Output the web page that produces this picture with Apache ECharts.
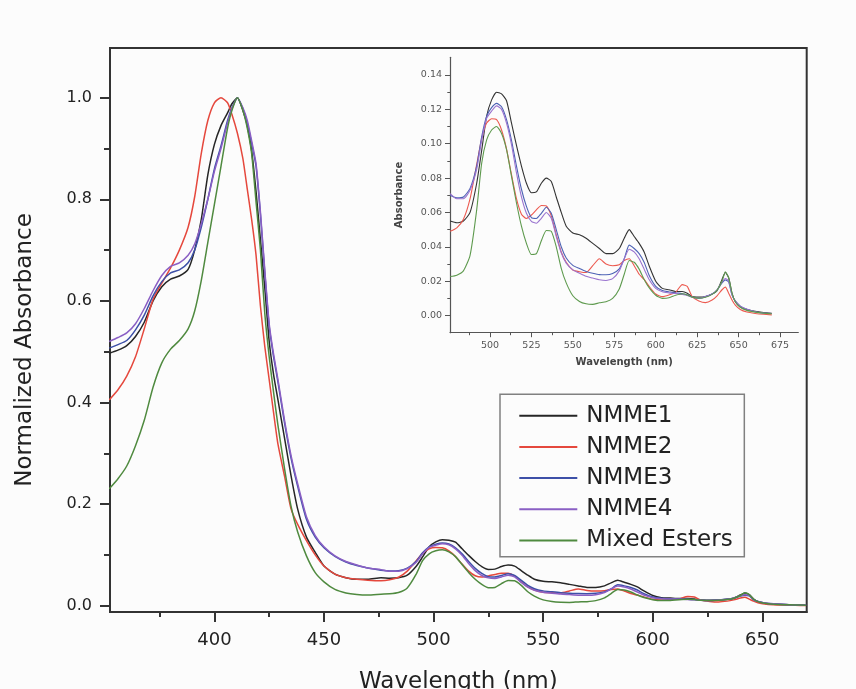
<!DOCTYPE html>
<html><head><meta charset="utf-8">
<script src="https://cdn.jsdelivr.net/npm/echarts@6/dist/echarts.min.js"></script>
<style>html,body{margin:0;padding:0;background:#fcfcfc}#c{width:856px;height:689px}</style>
</head><body><div id="c"></div>
<script>
// ---- data ----
const seriesNames = ['NMME1', 'NMME2', 'NMME3', 'NMME4', 'Mixed Esters'];
// Soret region (main chart only), nm
const waveSoret = [352, 356, 360, 364, 368, 372, 376, 380, 384, 388, 391, 394, 397, 400, 403, 406, 408, 410.5, 413, 415, 417, 419, 421, 423, 425, 427, 429, 432, 435, 438, 442, 446, 450, 455, 460, 465, 470];
const nmme1Soret = [0.497, 0.503, 0.512, 0.530, 0.558, 0.600, 0.628, 0.643, 0.649, 0.662, 0.700, 0.760, 0.848, 0.908, 0.945, 0.970, 0.988, 1.0, 0.975, 0.945, 0.895, 0.815, 0.72, 0.625, 0.52, 0.455, 0.405, 0.33, 0.255, 0.19, 0.135, 0.105, 0.078, 0.062, 0.055, 0.052, 0.052];
const nmme2Soret = [0.405, 0.425, 0.452, 0.49, 0.545, 0.603, 0.635, 0.665, 0.70, 0.745, 0.805, 0.89, 0.955, 0.99, 1.0, 0.99, 0.967, 0.93, 0.88, 0.82, 0.76, 0.69, 0.59, 0.51, 0.445, 0.38, 0.318, 0.255, 0.19, 0.16, 0.128, 0.10, 0.078, 0.062, 0.055, 0.052, 0.050];
const nmme3Soret = [0.507, 0.514, 0.522, 0.543, 0.572, 0.610, 0.638, 0.655, 0.661, 0.675, 0.70, 0.745, 0.80, 0.86, 0.905, 0.955, 0.98, 1.0, 0.978, 0.95, 0.91, 0.865, 0.77, 0.655, 0.55, 0.49, 0.44, 0.36, 0.29, 0.235, 0.17, 0.135, 0.114, 0.097, 0.086, 0.079, 0.074];
const nmme4Soret = [0.520, 0.528, 0.537, 0.555, 0.585, 0.620, 0.650, 0.668, 0.675, 0.690, 0.712, 0.752, 0.80, 0.855, 0.90, 0.95, 0.978, 1.0, 0.98, 0.955, 0.915, 0.87, 0.775, 0.66, 0.555, 0.495, 0.445, 0.365, 0.295, 0.24, 0.175, 0.138, 0.116, 0.098, 0.087, 0.080, 0.074];
const mixedSoret = [0.23, 0.25, 0.275, 0.315, 0.365, 0.43, 0.478, 0.505, 0.522, 0.545, 0.58, 0.64, 0.715, 0.79, 0.865, 0.94, 0.975, 1.0, 0.975, 0.94, 0.89, 0.795, 0.70, 0.575, 0.49, 0.42, 0.355, 0.27, 0.195, 0.145, 0.098, 0.065, 0.047, 0.032, 0.025, 0.022, 0.021];
// Q-band region (inset, and right part of main chart), nm
const waveQ = [476, 480, 484, 488, 492, 495, 498, 501, 504, 507, 510, 513, 516, 519, 522, 525, 528, 531, 534, 537, 540, 543, 546, 550, 554, 558, 562, 566, 570, 574, 578, 581, 584, 587, 590, 593, 596, 600, 604, 608, 612, 616, 619, 622, 626, 630, 634, 637, 640, 642, 644, 646, 648, 651, 655, 660, 665, 670];
const nmme1Q = [0.055, 0.054, 0.055, 0.060, 0.077, 0.096, 0.116, 0.1255, 0.130, 0.129, 0.125, 0.112, 0.099, 0.087, 0.077, 0.0715, 0.072, 0.077, 0.080, 0.078, 0.069, 0.060, 0.052, 0.048, 0.047, 0.045, 0.042, 0.039, 0.036, 0.036, 0.039, 0.045, 0.050, 0.046, 0.042, 0.037, 0.029, 0.020, 0.0158, 0.015, 0.014, 0.014, 0.013, 0.011, 0.0107, 0.011, 0.0125, 0.0145, 0.021, 0.025, 0.022, 0.013, 0.008, 0.005, 0.0035, 0.0025, 0.0017, 0.0013];
const nmme2Q = [0.049, 0.051, 0.056, 0.068, 0.088, 0.103, 0.112, 0.1145, 0.114, 0.108, 0.097, 0.082, 0.068, 0.059, 0.0565, 0.0585, 0.0615, 0.064, 0.0638, 0.058, 0.047, 0.037, 0.031, 0.0265, 0.0255, 0.025, 0.029, 0.033, 0.030, 0.029, 0.0295, 0.032, 0.033, 0.029, 0.024, 0.021, 0.017, 0.0125, 0.011, 0.012, 0.0135, 0.018, 0.017, 0.011, 0.0085, 0.0075, 0.009, 0.0115, 0.015, 0.0165, 0.013, 0.009, 0.006, 0.0035, 0.002, 0.0012, 0.0007, 0.0004];
const nmme3Q = [0.070, 0.0685, 0.069, 0.074, 0.087, 0.104, 0.116, 0.121, 0.1235, 0.1215, 0.114, 0.102, 0.087, 0.0735, 0.0635, 0.057, 0.0565, 0.0595, 0.063, 0.0595, 0.050, 0.040, 0.0335, 0.0292, 0.0273, 0.0256, 0.0246, 0.0238, 0.0237, 0.0245, 0.0272, 0.033, 0.041, 0.039, 0.036, 0.031, 0.0235, 0.017, 0.0145, 0.0138, 0.0132, 0.0127, 0.012, 0.0108, 0.0101, 0.011, 0.0125, 0.0148, 0.019, 0.0207, 0.0195, 0.012, 0.0085, 0.0055, 0.0036, 0.0022, 0.0015, 0.0012];
const nmme4Q = [0.071, 0.068, 0.068, 0.073, 0.085, 0.102, 0.1148, 0.119, 0.122, 0.120, 0.112, 0.0995, 0.083, 0.069, 0.0595, 0.0548, 0.0537, 0.0566, 0.060, 0.0566, 0.046, 0.0365, 0.0305, 0.0266, 0.0246, 0.0228, 0.0218, 0.0208, 0.0204, 0.0215, 0.026, 0.033, 0.0386, 0.037, 0.033, 0.027, 0.021, 0.0158, 0.0138, 0.0132, 0.0128, 0.0122, 0.0116, 0.0106, 0.0101, 0.011, 0.0125, 0.015, 0.0195, 0.0215, 0.0202, 0.012, 0.0085, 0.0055, 0.0036, 0.0022, 0.0015, 0.0012];
const mixedQ = [0.0227, 0.0235, 0.026, 0.035, 0.0615, 0.0886, 0.1022, 0.108, 0.110, 0.106, 0.0966, 0.081, 0.0655, 0.052, 0.042, 0.0355, 0.036, 0.0435, 0.0495, 0.049, 0.040, 0.0275, 0.019, 0.0115, 0.0082, 0.0068, 0.0065, 0.0074, 0.008, 0.010, 0.0155, 0.024, 0.032, 0.031, 0.027, 0.021, 0.0162, 0.0118, 0.010, 0.0103, 0.0118, 0.0127, 0.012, 0.0107, 0.0101, 0.0106, 0.0123, 0.0148, 0.020, 0.0255, 0.022, 0.013, 0.008, 0.0048, 0.003, 0.002, 0.0014, 0.001];
// tick values
const mainXMajor = [400, 450, 500, 550, 600, 650];
const mainXMinor = [375, 425, 475, 525, 575, 625];
const mainYMajor = [0, 0.2, 0.4, 0.6, 0.8, 1.0];
const mainYMinor = [0.1, 0.3, 0.5, 0.7, 0.9];
const insetXMajor = [500, 525, 550, 575, 600, 625, 650, 675];
const insetXMinor = [487.5, 512.5, 537.5, 562.5, 587.5, 612.5, 637.5, 662.5];
const insetYMajor = [0, 0.02, 0.04, 0.06, 0.08, 0.10, 0.12, 0.14];
const insetYMinor = [0.01, 0.03, 0.05, 0.07, 0.09, 0.11, 0.13];

const colors = ['#262626', '#e5483d', '#3d50a8', '#8a5fc4', '#4f8a3f'];
const insetColors = ['#333333', '#ec5a50', '#4e63b5', '#9a74cf', '#5e9a4e'];
const soretSets = [nmme1Soret, nmme2Soret, nmme3Soret, nmme4Soret, mixedSoret];
const qSets = [nmme1Q, nmme2Q, nmme3Q, nmme4Q, mixedQ];

const FONT = 'DejaVu Sans';
const pair = (xs, ys) => xs.map((x, i) => [x, ys[i]]);

const MAIN = {xmin: 352.36, xmax: 670.26, ymin: -0.0124, ymax: 1.0978};
const INS = {xmin: 475.9, xmax: 686, ymin: -0.01, ymax: 0.1503};

const series = [];
seriesNames.forEach((n, i) => {
  series.push({
    name: n, type: 'line', xAxisIndex: 0, yAxisIndex: 0, showSymbol: false, symbol: 'none',
    smooth: 0.2,
    lineStyle: {color: colors[i], width: 1.5}, itemStyle: {color: colors[i]},
    data: pair(waveSoret, soretSets[i]).concat(pair(waveQ, qSets[i]))
  });
});
seriesNames.forEach((n, i) => {
  series.push({
    name: n, type: 'line', xAxisIndex: 2, yAxisIndex: 2, showSymbol: false, symbol: 'none',
    smooth: 0.2,
    lineStyle: {color: insetColors[i], width: 1.1}, itemStyle: {color: insetColors[i]},
    data: pair(waveQ, qSets[i])
  });
});

const chart = echarts.init(document.getElementById('c'), null, {renderer: 'canvas'});
chart.setOption({
  backgroundColor: '#fcfcfc',
  animation: false,
  grid: [
    {left: 110, right: 49.3, top: 48, bottom: 77, show: true, borderColor: '#333', borderWidth: 2, backgroundColor: 'transparent', containLabel: false, outerBoundsMode: 'none'},
    {left: 450, top: 57.3, width: 348.3, height: 275.4, show: false, containLabel: false, outerBoundsMode: 'none'}
  ],
  legend: {
    orient: 'vertical', left: 500, top: 394.3,
    padding: [9.4, 11.7, 4.2, 19.3],
    icon: 'rect',
    itemWidth: 58, itemHeight: 2, itemGap: 7.2,
    borderColor: '#808080', borderWidth: 1.5, borderRadius: 0,
    textStyle: {fontFamily: FONT, fontSize: 23, lineHeight: 24, color: '#222', padding: [0, 0, 0, 4]},
    data: seriesNames
  },
  xAxis: [
    {gridIndex: 0, type: 'value', position: 'bottom', min: MAIN.xmin, max: MAIN.xmax,
     name: 'Wavelength (nm)', nameLocation: 'middle', nameGap: 59,
     nameTextStyle: {fontFamily: FONT, fontSize: 23, color: '#222'},
     axisLine: {show: true, onZero: false, lineStyle: {color: '#333', width: 2}},
     axisTick: {show: true, length: 10, lineStyle: {color: '#333', width: 2}, customValues: mainXMajor},
     axisLabel: {show: true, margin: 19, fontFamily: FONT, fontSize: 18, color: '#222', customValues: mainXMajor, formatter: v => String(Math.round(v))},
     splitLine: {show: false}},
    {gridIndex: 0, type: 'value', position: 'bottom', min: MAIN.xmin, max: MAIN.xmax,
     axisLine: {show: false, onZero: false},
     axisTick: {show: true, length: 5, lineStyle: {color: '#333', width: 2}, customValues: mainXMinor},
     axisLabel: {show: false}, splitLine: {show: false}},
    {gridIndex: 1, type: 'value', position: 'bottom', min: INS.xmin, max: INS.xmax,
     name: 'Wavelength (nm)', nameLocation: 'middle', nameGap: 25,
     nameTextStyle: {fontFamily: FONT, fontSize: 10, fontWeight: 'bold', color: '#444'},
     axisLine: {show: true, onZero: false, lineStyle: {color: '#555', width: 1.2}},
     axisTick: {show: true, length: 4.5, lineStyle: {color: '#555', width: 1}, customValues: insetXMajor},
     axisLabel: {show: true, margin: 8, fontFamily: FONT, fontSize: 9.5, color: '#555', customValues: insetXMajor, formatter: v => String(Math.round(v))},
     splitLine: {show: false}},
    {gridIndex: 1, type: 'value', position: 'bottom', min: INS.xmin, max: INS.xmax,
     axisLine: {show: false, onZero: false},
     axisTick: {show: true, length: 2.5, lineStyle: {color: '#555', width: 1}, customValues: insetXMinor},
     axisLabel: {show: false}, splitLine: {show: false}}
  ],
  yAxis: [
    {gridIndex: 0, type: 'value', position: 'left', min: MAIN.ymin, max: MAIN.ymax,
     name: 'Normalized Absorbance', nameLocation: 'middle', nameGap: 73,
     nameTextStyle: {fontFamily: FONT, fontSize: 23, color: '#222', padding: [0, 40, 0, 0]},
     axisLine: {show: true, onZero: false, lineStyle: {color: '#333', width: 2}},
     axisTick: {show: true, length: 10, lineStyle: {color: '#333', width: 2}, customValues: mainYMajor},
     axisLabel: {show: true, margin: 18, fontFamily: FONT, fontSize: 16, color: '#222', customValues: mainYMajor, formatter: v => v.toFixed(1)},
     splitLine: {show: false}},
    {gridIndex: 0, type: 'value', position: 'left', min: MAIN.ymin, max: MAIN.ymax,
     axisLine: {show: false, onZero: false},
     axisTick: {show: true, length: 6, lineStyle: {color: '#333', width: 2}, customValues: mainYMinor},
     axisLabel: {show: false}, splitLine: {show: false}},
    {gridIndex: 1, type: 'value', position: 'left', min: INS.ymin, max: INS.ymax,
     name: 'Absorbance', nameLocation: 'middle', nameGap: 46,
     nameTextStyle: {fontFamily: FONT, fontSize: 10, fontWeight: 'bold', color: '#444'},
     axisLine: {show: true, onZero: false, lineStyle: {color: '#555', width: 1.2}},
     axisTick: {show: true, length: 5, lineStyle: {color: '#555', width: 1}, customValues: insetYMajor},
     axisLabel: {show: true, margin: 8, fontFamily: FONT, fontSize: 9.5, color: '#555', customValues: insetYMajor, formatter: v => v.toFixed(2)},
     splitLine: {show: false}},
    {gridIndex: 1, type: 'value', position: 'left', min: INS.ymin, max: INS.ymax,
     axisLine: {show: false, onZero: false},
     axisTick: {show: true, length: 2.7, lineStyle: {color: '#555', width: 1}, customValues: insetYMinor},
     axisLabel: {show: false}, splitLine: {show: false}}
  ],
  series: series
});
</script>
</body></html>
